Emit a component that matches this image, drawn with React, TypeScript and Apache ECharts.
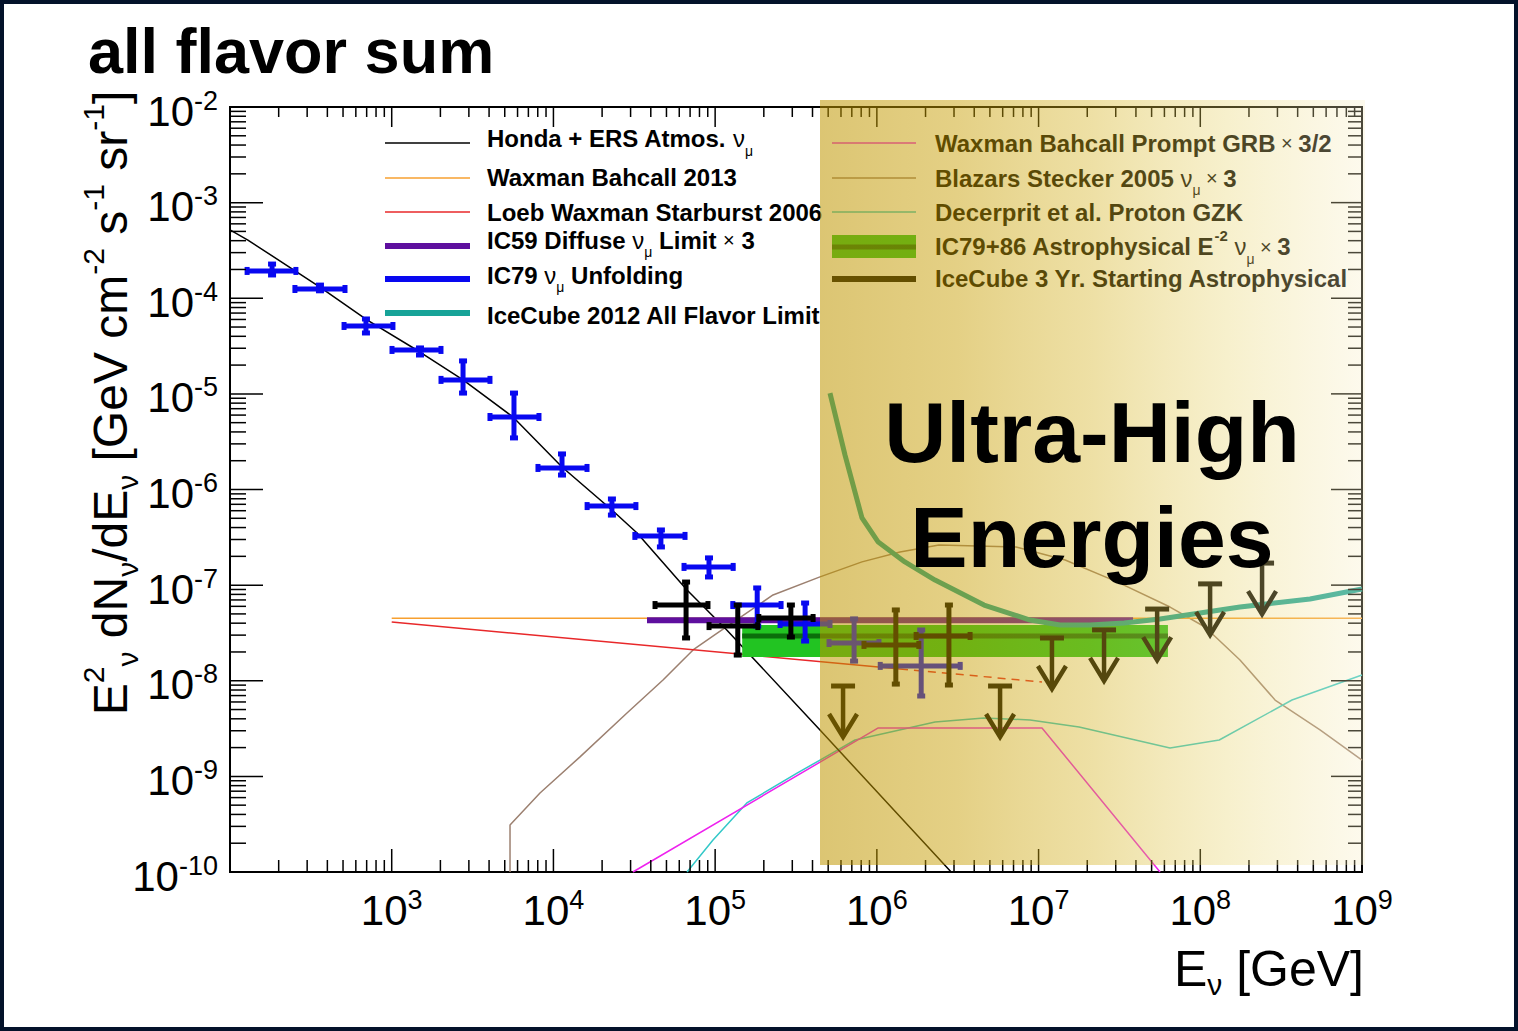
import React, { useEffect, useRef } from 'react';
import * as echarts from 'echarts';

const FONT = '"Liberation Sans", Arial, Helvetica, sans-serif';

// ---------- axis ranges and tick labels ----------
const X_MIN = 1e2;
const X_MAX = 1e9;
const Y_MIN = 1e-10;
const Y_MAX = 1e-2;
const xDecades = [2, 3, 4, 5, 6, 7, 8, 9];
const yDecades = [-10, -9, -8, -7, -6, -5, -4, -3, -2];

// ---------- model curves [E (GeV), E^2 dN/dE] ----------
const hondaAtmos: number[][] = [
  [100, 5.18e-4], [129, 4.06e-4], [360, 1.31e-4], [703, 5.93e-5], [1496, 2.74e-5],
  [2761, 1.4e-5], [5623, 5.73e-6], [11300, 1.72e-6], [23000, 6.11e-7], [32900, 3.51e-7],
  [67000, 8.9e-8], [118000, 3.4e-8], [445000, 3.05e-9], [2.88e6, 1e-10],
];
const waxmanBahcall2013: number[][] = [[1e3, 4.5e-8], [1e9, 4.5e-8]];
const loebStarburst: number[][] = [[1e3, 4.11e-8], [1.39e6, 1.33e-8]];
const loebStarburstExt: number[][] = [[1.39e6, 1.33e-8], [1.05e7, 9.7e-9]];
const ic59Limit: number[][] = [[3.79e4, 4.3e-8], [3.84e7, 4.3e-8]];
const icecube2012Limit: number[][] = [
  [5.13e5, 1.02e-5], [6.35e5, 2.3e-6], [8.09e5, 5.04e-7], [1.02e6, 2.82e-7], [1.49e6, 1.75e-7],
  [2.29e6, 1.13e-7], [4.6e6, 6.19e-8], [8.86e6, 4.31e-8], [1.36e7, 3.83e-8], [2.08e7, 3.83e-8],
  [3.38e7, 4.02e-8], [5.64e7, 4.42e-8], [9.96e7, 5.11e-8], [1.76e8, 5.9e-8], [4.77e8, 7.16e-8],
  [1e9, 9.1e-8],
];
const grbPrompt: number[][] = [[31000, 1e-10], [1.02e6, 3.21e-9], [1.05e7, 3.21e-9], [5.64e7, 1e-10]];
const blazarsStecker: number[][] = [
  [5390, 1e-10], [5390, 3.1e-10], [8260, 6.7e-10], [14600, 1.6e-9], [28500, 4.6e-9],
  [47600, 1.02e-8], [73000, 2.1e-8], [1.03e5, 3.15e-8], [2.28e5, 7.89e-8], [4.45e5, 1.22e-7],
  [8.09e5, 1.75e-7], [1.39e6, 2.22e-7], [2.42e6, 2.63e-7], [7.26e6, 2.51e-7], [1.46e7, 1.83e-7],
  [3.06e7, 1.08e-7], [6.5e7, 5.9e-8], [1.07e8, 3.65e-8], [1.76e8, 1.65e-8], [2.9e8, 6.29e-9],
  [5.5e8, 3.06e-9], [1e9, 1.48e-9],
];
const gzkDecerprit: number[][] = [
  [67000, 1e-10], [97000, 2.16e-10], [1.57e5, 5.27e-10], [3.21e5, 1.08e-9], [4.45e5, 1.48e-9],
  [7.33e5, 2.4e-9], [2.29e6, 3.7e-9], [4.6e6, 4.08e-9], [8.86e6, 3.89e-9], [1.78e7, 3.28e-9],
  [6.5e7, 1.98e-9], [1.31e8, 2.4e-9], [3.69e8, 6.29e-9], [1e9, 1.15e-8],
];
// IC79+86 astrophysical band: [E low, E high, flux low, flux high]
const ic79x86Band: number[][] = [[1.47e5, 6.31e7, 1.77e-8, 3.83e-8]];
const ic79x86BestFit: number[][] = [[1.47e5, 2.94e-8], [6.31e7, 2.94e-8]];

// ---------- data points: [E, flux, E low, E high, flux low, flux high] ----------
const ic79Unfolding: number[][] = [
  [182, 1.93e-4, 124, 263, 1.67e-4, 2.39e-4],
  [360, 1.25e-4, 245, 529, 1.14e-4, 1.44e-4],
  [693, 5.13e-5, 493, 1047, 4.13e-5, 6.37e-5],
  [1496, 2.88e-5, 976, 2075, 2.43e-5, 3.17e-5],
  [2761, 1.4e-5, 1961, 4168, 9.72e-6, 2.32e-5],
  [5702, 5.73e-6, 3938, 8375, 3.3e-6, 1.07e-5],
  [11300, 1.68e-6, 7800, 16600, 1.35e-6, 2.47e-6],
  [23000, 6.71e-7, 15700, 33300, 5.15e-7, 8.35e-7],
  [46200, 3.27e-7, 31000, 67000, 2.39e-7, 3.96e-7],
  [91600, 1.55e-7, 62400, 1.33e5, 1.16e-7, 2.02e-7],
  [1.82e5, 6.19e-8, 1.25e5, 2.63e5, 3.56e-8, 9.8e-8],
  [3.6e5, 3.92e-8, 2.45e5, 5.28e5, 2.48e-8, 6.82e-8],
  [7.23e5, 2.48e-8, 4.92e5, 1.06e6, 1.53e-8, 4.65e-8],
  [1.88e6, 1.43e-8, 1.02e6, 3.37e6, 6.6e-9, 3.56e-8],
];
const starting3yr: number[][] = [
  [66100, 6.19e-8, 41300, 92900, 2.67e-8, 1.13e-7],
  [1.38e5, 3.73e-8, 89100, 1.89e5, 1.77e-8, 6.5e-8],
  [2.94e5, 4.53e-8, 1.81e5, 4.15e5, 2.73e-8, 6.5e-8],
  [1.31e6, 2.37e-8, 8.09e5, 1.87e6, 8.8e-9, 5.77e-8],
  [2.79e6, 2.94e-8, 1.7e6, 3.88e6, 8.6e-9, 6.5e-8],
];
// upper limits [E, flux]
const starting3yrLimits: number[][] = [
  [6.18e5, 8.81e-9], [5.78e6, 8.81e-9], [1.21e7, 2.8e-8], [2.54e7, 3.4e-8],
  [5.41e7, 5.62e-8], [1.15e8, 1.03e-7], [2.41e8, 1.7e-7],
];

// ---------- colours ----------
const C_BLACK = '#000000';
const C_ORANGE = '#f7a030';
const C_RED = '#e8282a';
const C_PURPLE = '#5e0f9e';
const C_BLUE = '#0808f0';
const C_TEAL = '#17a398';
const C_MAGENTA = '#ee22ee';
const C_BROWN = '#9c8070';
const C_CYAN = '#33c8c8';
const C_GREEN = '#22c422';
const C_DKGREEN = '#0b6e0b';

function buildTicks(decades: number[]): number[] {
  const out: number[] = [];
  for (let i = 0; i < decades.length; i++) {
    const d = Math.pow(10, decades[i]);
    out.push(d);
    if (i < decades.length - 1) for (let m = 2; m <= 9; m++) out.push(m * d);
  }
  return out;
}
const isDecade = (v: number) => Math.abs(Math.log10(v) - Math.round(Math.log10(v))) < 1e-6;

function crossRender(color: string, lw: number) {
  return (params: any, api: any) => {
    const x = api.value(0);
    const y = api.value(1);
    const c = api.coord([x, y]);
    const l = api.coord([api.value(2), y]);
    const r = api.coord([api.value(3), y]);
    const lo = api.coord([x, api.value(4)]);
    const hi = api.coord([x, api.value(5)]);
    const st = { stroke: color, lineWidth: lw };
    const cp = 4;
    return {
      type: 'group',
      children: [
        { type: 'line', shape: { x1: l[0], y1: c[1], x2: r[0], y2: c[1] }, style: st },
        { type: 'line', shape: { x1: c[0], y1: lo[1], x2: c[0], y2: hi[1] }, style: st },
        { type: 'line', shape: { x1: l[0] + 2, y1: c[1] - cp, x2: l[0] + 2, y2: c[1] + cp }, style: st },
        { type: 'line', shape: { x1: r[0] - 2, y1: c[1] - cp, x2: r[0] - 2, y2: c[1] + cp }, style: st },
        { type: 'line', shape: { x1: c[0] - cp, y1: lo[1] - 2, x2: c[0] + cp, y2: lo[1] - 2 }, style: st },
        { type: 'line', shape: { x1: c[0] - cp, y1: hi[1] + 2, x2: c[0] + cp, y2: hi[1] + 2 }, style: st },
      ],
    };
  };
}

function limitRender(params: any, api: any) {
  const p = api.coord([api.value(0), api.value(1)]);
  const x = p[0];
  const y = p[1];
  const st = { stroke: C_BLACK, lineWidth: 4.5, fill: 'none' };
  return {
    type: 'group',
    children: [
      { type: 'line', shape: { x1: x - 12, y1: y, x2: x + 12, y2: y }, style: { stroke: C_BLACK, lineWidth: 5 } },
      { type: 'line', shape: { x1: x, y1: y, x2: x, y2: y + 50 }, style: st },
      { type: 'polyline', shape: { points: [[x - 14, y + 28], [x, y + 51], [x + 14, y + 28]] }, style: st },
    ],
  };
}

const tickStyle = { stroke: C_BLACK, lineWidth: 1.5 };
function xTickRender(params: any, api: any) {
  const v = api.value(0);
  const p = api.coord([v, Y_MIN]);
  const cs = params.coordSys;
  const major = isDecade(v);
  const lb = major ? 23 : 12;
  const lt = major ? 20 : 10;
  const b = cs.y + cs.height;
  return {
    type: 'group',
    children: [
      { type: 'line', shape: { x1: p[0], y1: b, x2: p[0], y2: b - lb }, style: tickStyle },
      { type: 'line', shape: { x1: p[0], y1: cs.y, x2: p[0], y2: cs.y + lt }, style: tickStyle },
    ],
  };
}
function yTickRender(params: any, api: any) {
  const v = api.value(1);
  const p = api.coord([X_MIN, v]);
  const cs = params.coordSys;
  const major = isDecade(v);
  const ll = major ? 33 : 16;
  const lr = major ? 31 : 14;
  const r = cs.x + cs.width;
  return {
    type: 'group',
    children: [
      { type: 'line', shape: { x1: cs.x, y1: p[1], x2: cs.x + ll, y2: p[1] }, style: tickStyle },
      { type: 'line', shape: { x1: r, y1: p[1], x2: r - lr, y2: p[1] }, style: tickStyle },
    ],
  };
}

const legendRich: any = {
  b: { fontFamily: FONT, fontWeight: 'bold', fontSize: 24, lineHeight: 38, fill: '#000' },
  n: { fontFamily: FONT, fontSize: 24, lineHeight: 38, fill: '#000' },
  x: { fontFamily: FONT, fontSize: 20, lineHeight: 38, fill: '#000' },
  s: { fontFamily: FONT, fontSize: 14, lineHeight: 14, verticalAlign: 'bottom', fill: '#000' },
  p: { fontFamily: FONT, fontWeight: 'bold', fontSize: 15, lineHeight: 16, verticalAlign: 'top', fill: '#000' },
};

const legendLeftItems = [
  { text: '{b|Honda + ERS Atmos.}{n| ν}{s|μ}', color: C_BLACK, width: 1.5 },
  { text: '{b|Waxman Bahcall 2013}', color: C_ORANGE, width: 1.5 },
  { text: '{b|Loeb Waxman Starburst 2006}', color: C_RED, width: 1.5 },
  { text: '{b|IC59 Diffuse }{n|ν}{s|μ}{b| Limit }{x|×}{b| 3}', color: C_PURPLE, width: 6 },
  { text: '{b|IC79 }{n|ν}{s|μ}{b| Unfolding}', color: C_BLUE, width: 6 },
  { text: '{b|IceCube 2012 All Flavor Limit}', color: C_TEAL, width: 6 },
];
const legendLeftLineY = [143, 178, 212, 246, 279, 313];
const legendLeftTextY = [138.5, 177.5, 212.5, 240, 275, 315];

const legendRightItems = [
  { text: '{b|Waxman Bahcall Prompt GRB}{x| × }{b|3/2}', color: C_MAGENTA, width: 1.5 },
  { text: '{b|Blazars Stecker 2005 }{n|ν}{s|μ}{x| × }{b|3}', color: C_BROWN, width: 1.5 },
  { text: '{b|Decerprit et al. Proton GZK}', color: C_CYAN, width: 1.5 },
  { text: '{b|IC79+86 Astrophysical E}{p|-2}{n| ν}{s|μ}{x| × }{b|3}', color: 'band', width: 5 },
  { text: '{b|IceCube 3 Yr. Starting Astrophysical}', color: C_BLACK, width: 6 },
];
const legendRightLineY = [143, 178, 212, 247, 279];
const legendRightTextY = [143, 178, 212, 246.5, 278.5];

function buildLegend(items: any[], lineY: number[], textY: number[], x1: number, x2: number, tx: number) {
  const els: any[] = [];
  items.forEach((it, i) => {
    if (it.color === 'band') {
      els.push({ type: 'rect', z: 10, shape: { x: x1, y: lineY[i] - 12, width: x2 - x1, height: 23 }, style: { fill: C_GREEN } });
      els.push({ type: 'line', z: 11, shape: { x1, y1: lineY[i], x2, y2: lineY[i] }, style: { stroke: C_DKGREEN, lineWidth: it.width } });
    } else {
      els.push({ type: 'line', z: 10, shape: { x1, y1: lineY[i], x2, y2: lineY[i] }, style: { stroke: it.color, lineWidth: it.width } });
    }
    els.push({
      type: 'text', z: 10, x: tx, y: textY[i],
      style: { text: it.text, rich: legendRich, fill: '#000', align: 'left', verticalAlign: 'middle', textAlign: 'left', textVerticalAlign: 'middle' },
    });
  });
  return els;
}

function lineSeries(name: string, data: number[][], color: string, width: number, z = 3, type: any = 'solid') {
  return {
    name, type: 'line', data, symbol: 'none', showSymbol: false, z, silent: true,
    lineStyle: { color, width, type, cap: 'butt' },
  };
}

export default function App() {
  const ref = useRef<HTMLDivElement>(null);

  useEffect(() => {
    if (!ref.current) return;
    const chart = echarts.init(ref.current, undefined, { renderer: 'svg' });

    const xTicks = buildTicks(xDecades).map((v) => [v, Y_MIN]);
    const yTicks = buildTicks(yDecades).map((v) => [X_MIN, v]);

    const xLabelRich = {
      b: { fontFamily: FONT, fontSize: 42, lineHeight: 48, color: '#000' },
      e: { fontFamily: FONT, fontSize: 27, lineHeight: 27, verticalAlign: 'top', color: '#000' },
    };
    const yLabelRich = {
      b: { fontFamily: FONT, fontSize: 42, lineHeight: 48, color: '#000' },
      e: { fontFamily: FONT, fontSize: 27, lineHeight: 32, verticalAlign: 'top', color: '#000' },
    };
    const fmt = (v: number) => `{b|10}{e|${Math.round(Math.log10(v))}}`;

    const overlay = new echarts.graphic.LinearGradient(0, 0, 1, 0, [
      { offset: 0, color: 'rgba(191,150,0,0.55)' },
      { offset: 0.25, color: 'rgba(199,157,0,0.48)' },
      { offset: 0.5, color: 'rgba(212,177,30,0.40)' },
      { offset: 0.75, color: 'rgba(231,210,103,0.33)' },
      { offset: 1, color: 'rgba(248,238,196,0.30)' },
    ]);

    const option: any = {
      animation: false,
      backgroundColor: '#ffffff',
      grid: {
        left: 230, top: 107, width: 1132, height: 765,
        show: true, borderColor: '#000', borderWidth: 2, backgroundColor: 'transparent',
        containLabel: false, outerBoundsMode: 'none',
      },
      xAxis: {
        type: 'log', logBase: 10, min: X_MIN, max: X_MAX, splitNumber: 7,
        axisLine: { show: false }, axisTick: { show: false }, splitLine: { show: false },
        minorTick: { show: false }, minorSplitLine: { show: false },
        axisLabel: {
          margin: 14, showMinLabel: true, showMaxLabel: true,
          formatter: (v: number) => (Math.round(Math.log10(v)) <= 2 ? '' : fmt(v)),
          rich: xLabelRich,
        },
      },
      yAxis: {
        type: 'log', logBase: 10, min: Y_MIN, max: Y_MAX, splitNumber: 8,
        axisLine: { show: false }, axisTick: { show: false }, splitLine: { show: false },
        minorTick: { show: false }, minorSplitLine: { show: false },
        axisLabel: {
          margin: 12, showMinLabel: true, showMaxLabel: true, padding: [8, 0, 0, 0],
          formatter: fmt, rich: yLabelRich,
        },
      },
      series: [
        lineSeries('Blazars Stecker 2005', blazarsStecker, C_BROWN, 1.5, 2),
        lineSeries('Decerprit et al. Proton GZK', gzkDecerprit, C_CYAN, 1.5, 2),
        lineSeries('Waxman Bahcall Prompt GRB', grbPrompt, C_MAGENTA, 1.5, 2),
        lineSeries('Honda + ERS Atmos.', hondaAtmos, C_BLACK, 1.5, 2),
        lineSeries('Waxman Bahcall 2013', waxmanBahcall2013, C_ORANGE, 1.5, 2),
        lineSeries('Loeb Waxman Starburst 2006', loebStarburst, C_RED, 1.5, 2),
        lineSeries('Loeb Waxman Starburst 2006 ext', loebStarburstExt, C_RED, 1.5, 2, [8, 6]),
        {
          name: 'IC79+86 band', type: 'custom', z: 3, silent: true, data: ic79x86Band,
          renderItem: (params: any, api: any) => {
            const a = api.coord([api.value(0), api.value(3)]);
            const b = api.coord([api.value(1), api.value(2)]);
            return { type: 'rect', shape: { x: a[0], y: a[1], width: b[0] - a[0], height: b[1] - a[1] }, style: { fill: C_GREEN } };
          },
        },
        lineSeries('IC79+86 best fit', ic79x86BestFit, C_DKGREEN, 5, 4),
        lineSeries('IC59 Diffuse Limit', ic59Limit, C_PURPLE, 6, 4),
        lineSeries('IceCube 2012 All Flavor Limit', icecube2012Limit, C_TEAL, 5, 4),
        { name: 'IC79 Unfolding', type: 'custom', z: 5, silent: true, data: ic79Unfolding, renderItem: crossRender(C_BLUE, 5) },
        { name: 'IceCube 3 Yr Starting', type: 'custom', z: 6, silent: true, data: starting3yr, renderItem: crossRender(C_BLACK, 5) },
        { name: 'IceCube 3 Yr Starting limits', type: 'custom', z: 6, silent: true, data: starting3yrLimits, renderItem: limitRender },
        { name: 'x ticks', type: 'custom', z: 7, silent: true, clip: false, data: xTicks, renderItem: xTickRender },
        { name: 'y ticks', type: 'custom', z: 7, silent: true, clip: false, data: yTicks, renderItem: yTickRender },
      ],
      graphic: [
        {
          type: 'text', x: 88, y: 51, z: 20,
          style: {
            text: 'all flavor sum', fill: '#000', font: `bold 63px ${FONT}`, lineHeight: 46,
            align: 'left', verticalAlign: 'middle', textAlign: 'left', textVerticalAlign: 'middle',
          },
        },
        {
          type: 'text', x: 110, y: 403, z: 20, rotation: Math.PI / 2,
          style: {
            text: '{m|E}{p|2}{s|ν}{m| dN}{s|ν}{m|/dE}{s|ν}{m| [GeV cm}{p|-2}{m| s}{p|-1}{m| sr}{p|-1}{m|]}',
            align: 'center', verticalAlign: 'middle', textAlign: 'center', textVerticalAlign: 'middle',
            rich: {
              m: { fontFamily: FONT, fontSize: 48, lineHeight: 64, fill: '#000' },
              p: { fontFamily: FONT, fontSize: 30, lineHeight: 30, verticalAlign: 'top', fill: '#000' },
              s: { fontFamily: FONT, fontSize: 30, lineHeight: 30, verticalAlign: 'bottom', fill: '#000' },
            },
          },
        },
        {
          type: 'text', x: 1364, y: 969, z: 20,
          style: {
            text: '{m|E}{s|ν}{m| [GeV]}',
            align: 'right', verticalAlign: 'middle', textAlign: 'right', textVerticalAlign: 'middle',
            rich: {
              m: { fontFamily: FONT, fontSize: 50, lineHeight: 60, fill: '#000' },
              s: { fontFamily: FONT, fontSize: 30, lineHeight: 30, verticalAlign: 'bottom', fill: '#000' },
            },
          },
        },
        ...buildLegend(legendLeftItems, legendLeftLineY, legendLeftTextY, 385, 470, 487),
        ...buildLegend(legendRightItems, legendRightLineY, legendRightTextY, 832, 916, 935),
        { type: 'rect', z: 100, shape: { x: 820, y: 100, width: 545, height: 765 }, style: { fill: overlay } },
        {
          type: 'text', x: 1092, y: 432, z: 110,
          style: { text: 'Ultra-High', fill: '#000', font: `bold 86px ${FONT}`, align: 'center', verticalAlign: 'middle', textAlign: 'center', textVerticalAlign: 'middle' },
        },
        {
          type: 'text', x: 1092, y: 537, z: 110,
          style: { text: 'Energies', fill: '#000', font: `bold 86px ${FONT}`, align: 'center', verticalAlign: 'middle', textAlign: 'center', textVerticalAlign: 'middle' },
        },
      ],
    };

    chart.setOption(option);
    return () => {
      chart.dispose();
    };
  }, []);

  return (
    <div style={{ position: 'fixed', left: 0, top: 0, width: 1518, height: 1031, background: '#fff' }}>
      <div ref={ref} style={{ position: 'absolute', left: 0, top: 0, width: 1518, height: 1031 }} />
      <div
        style={{
          position: 'absolute', left: 0, top: 0, width: 1518, height: 1031,
          border: '4px solid #03122a', boxSizing: 'border-box', pointerEvents: 'none',
        }}
      />
    </div>
  );
}
